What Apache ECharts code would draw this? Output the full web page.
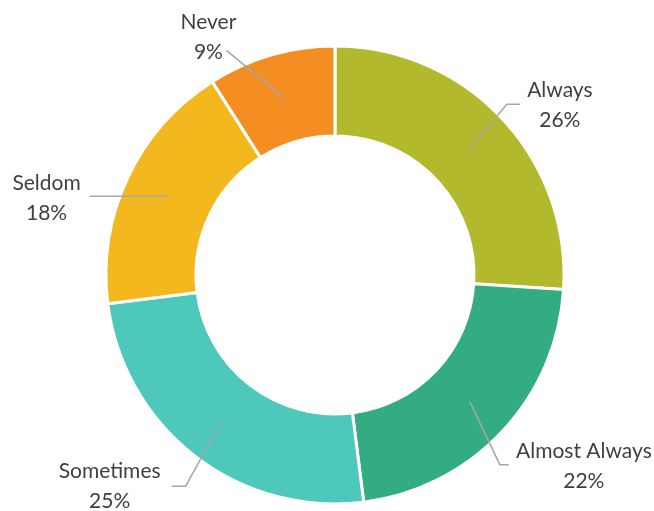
<!DOCTYPE html>
<html><head><meta charset="utf-8">
<script src="https://cdn.jsdelivr.net/npm/echarts@6/dist/echarts.min.js"></script>
<style>html,body{margin:0;padding:0;background:#fff}#c{width:654px;height:511px}</style>
</head><body><div id="c"></div>
<script>
const categories = ['Always', 'Almost Always', 'Sometimes', 'Seldom', 'Never'];
const values = [26, 22, 25, 18, 9];
const colors = ['#B3B92C', '#33AC82', '#4DC8BB', '#F4B81F', '#F58E22'];
// label guide geometry (layout only): [elbowDx, elbowDy, horizontalLen, labelDx, labelDy]
const labelGuides = [
  [37, -44, 13, 40, 1],
  [30, 63, 9, 75, 2],
  [-36, 65, -14, -62, 0],
  [0, 0, -78, -43, 2],
  [-57, -47, 0, -18, -13]
];
const CX = 335, CY = 275, R_OUT = 229, R_IN = 139, R_LINE = 185;

const chart = echarts.init(document.getElementById('c'), null, {renderer: 'canvas'});
chart.setOption({
  animation: false,
  backgroundColor: '#fff',
  series: [{
    type: 'pie',
    z: 2,
    center: [CX, CY],
    radius: [R_IN, R_OUT],
    startAngle: 90,
    clockwise: true,
    silent: true,
    itemStyle: {borderColor: '#fff', borderWidth: 3},
    label: {show: false},
    labelLine: {show: false},
    data: categories.map((n, i) => ({name: n, value: values[i], itemStyle: {color: colors[i]}}))
  }, {
    type: 'pie',
    z: 5,
    center: [CX, CY],
    radius: [R_IN, R_OUT],
    startAngle: 90,
    clockwise: true,
    avoidLabelOverlap: false,
    silent: true,
    itemStyle: {color: 'rgba(0,0,0,0)', borderWidth: 0},
    label: {
      show: true,
      position: 'outside',
      formatter: '{b}\n{c}%',
      fontFamily: 'Lato',
      fontSize: 21,
      lineHeight: 30,
      color: '#404040'
    },
    labelLine: {show: true, length: 20, length2: 10, lineStyle: {color: '#A6A6A6', width: 1.5}},
    labelLayout: function (params) {
      const g = labelGuides[params.dataIndex];
      const p0 = params.labelLinePoints && params.labelLinePoints[0];
      if (!p0) return {};
      const vx = p0[0] - CX, vy = p0[1] - CY, len = Math.hypot(vx, vy);
      const a = [CX + vx / len * R_LINE, CY + vy / len * R_LINE];
      const e = [a[0] + g[0], a[1] + g[1]];
      const end = [e[0] + g[2], e[1]];
      return {
        x: end[0] + g[3], y: end[1] + g[4],
        align: 'center', verticalAlign: 'middle',
        labelLinePoints: [a, e, end]
      };
    },
    data: categories.map((n, i) => ({name: n, value: values[i]}))
  }]
});
</script></body></html>
